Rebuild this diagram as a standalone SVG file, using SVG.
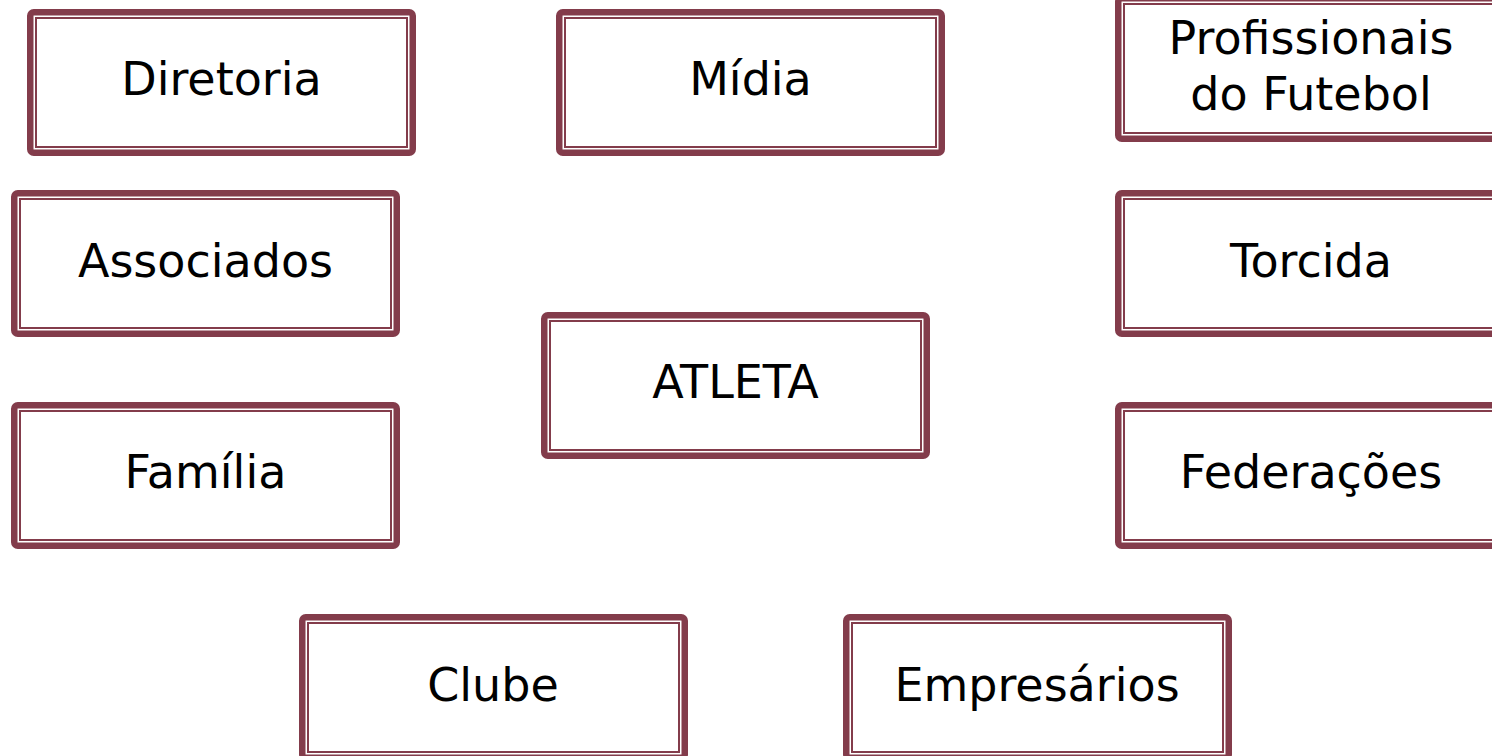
<svg xmlns="http://www.w3.org/2000/svg" width="1492" height="756" viewBox="0 0 1492 756">
  <defs>
    <style>
      .outer { fill: #ffffff; stroke: #833C4B; stroke-width: 6.5; }
      .inner { fill: none; stroke: #833C4B; stroke-width: 2; }
      .label { font-family: "DejaVu Sans", Verdana, sans-serif; font-size: 46px; fill: #000000; text-anchor: middle; }
    </style>
    <g id="box">
      <rect class="outer" x="3.25" y="3.25" width="382.5" height="140.5" rx="3.5" ry="3.5"/>
      <rect class="inner" x="9" y="9" width="371" height="129"/>
    </g>
  </defs>
  <rect x="0" y="0" width="1492" height="756" fill="#ffffff"/>
  <g id="connectors"></g>

  <g id="diretoria" transform="translate(27,9)">
    <use href="#box"/>
    <text class="label" x="194.5" y="86">Diretoria</text>
  </g>
  <g id="midia" transform="translate(556,9)">
    <use href="#box"/>
    <text class="label" x="194.5" y="86">Mídia</text>
  </g>
  <g id="profissionais" transform="translate(1115,-5)">
    <use href="#box"/>
    <text class="label" x="196" y="59">Profissionais</text>
    <text class="label" x="196" y="115">do Futebol</text>
  </g>
  <g id="associados" transform="translate(11,190)">
    <use href="#box"/>
    <text class="label" x="194.5" y="87">Associados</text>
  </g>
  <g id="torcida" transform="translate(1115,190)">
    <use href="#box"/>
    <text class="label" x="196" y="87">Torcida</text>
  </g>
  <g id="atleta" transform="translate(541,312)">
    <use href="#box"/>
    <text class="label" x="194.5" y="86">ATLETA</text>
  </g>
  <g id="familia" transform="translate(11,402)">
    <use href="#box"/>
    <text class="label" x="194.5" y="86">Família</text>
  </g>
  <g id="federacoes" transform="translate(1115,402)">
    <use href="#box"/>
    <text class="label" x="196" y="86">Federações</text>
  </g>
  <g id="clube" transform="translate(299,614)">
    <use href="#box"/>
    <text class="label" x="194" y="87">Clube</text>
  </g>
  <g id="empresarios" transform="translate(843,614)">
    <use href="#box"/>
    <text class="label" x="194" y="87">Empresários</text>
  </g>
</svg>
